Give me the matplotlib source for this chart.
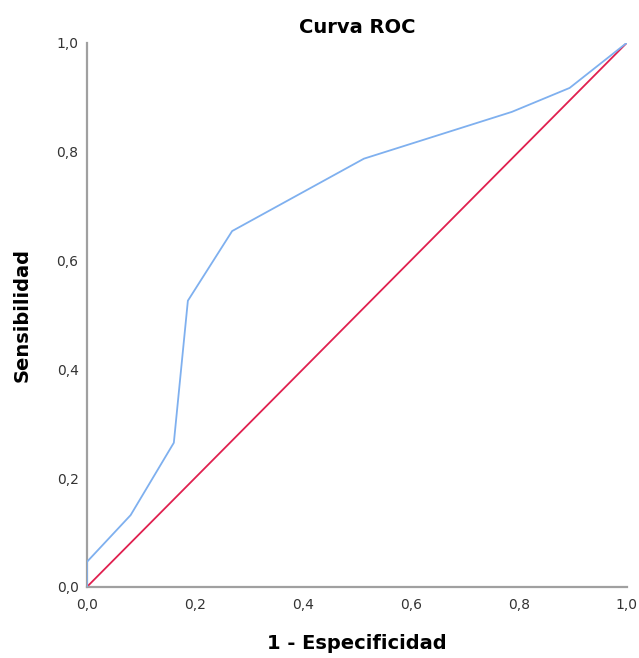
import matplotlib
matplotlib.use("Agg")
import matplotlib.pyplot as plt

# datos de la curva ROC
fpr = [0.0, 0.0, 0.081, 0.161, 0.187, 0.269, 0.513, 0.787, 0.894, 1.0]
tpr = [0.0, 0.046, 0.132, 0.265, 0.526, 0.654, 0.787, 0.873, 0.917, 1.0]
ref = [0.0, 1.0]
ticks = [0.0, 0.2, 0.4, 0.6, 0.8, 1.0]
tick_labels = ["0,0", "0,2", "0,4", "0,6", "0,8", "1,0"]

plt.rcParams['font.family'] = ['DejaVu Sans']

fig = plt.figure(figsize=(6.39, 6.58), dpi=100)
ax = fig.add_axes([0.136, 0.108, 0.845, 0.827])

ax.plot(fpr, tpr, color="#7fb0ef", lw=1.3, zorder=3)
ax.plot(ref, ref, color="#e0204f", lw=1.3, zorder=2)

ax.set_xlim(0, 1)
ax.set_ylim(0, 1)
ax.set_xticks(ticks)
ax.set_xticklabels(tick_labels)
ax.set_yticks(ticks)
ax.set_yticklabels(tick_labels)
ax.tick_params(length=0, labelsize=10, colors="#333333")
ax.tick_params(axis="x", pad=8)
ax.tick_params(axis="y", pad=6)

for s in ["top", "right"]:
    ax.spines[s].set_visible(False)
for s in ["left", "bottom"]:
    ax.spines[s].set_color("#a0a0a0")
    ax.spines[s].set_linewidth(1.6)

ax.set_title("Curva ROC", fontsize=14, fontweight="bold", pad=7)
ax.set_xlabel("1 - Especificidad", fontsize=14, fontweight="bold", labelpad=16)
ax.set_ylabel("Sensibilidad", fontsize=14, fontweight="bold", labelpad=18)

fig.savefig("out.png", dpi=100)
